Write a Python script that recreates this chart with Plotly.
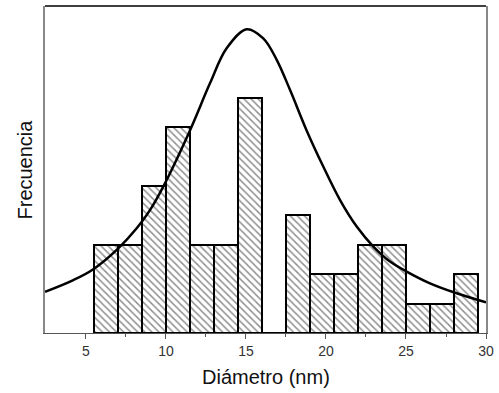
import plotly.graph_objects as go

# Histogram bins (nm) and counts
bin_centers = [6.25, 7.75, 9.25, 10.75, 12.25, 13.75, 15.25, 16.75,
               18.25, 19.75, 21.25, 22.75, 24.25, 25.75, 27.25, 28.75]
counts = [3, 3, 5, 7, 3, 3, 8, 0, 4, 2, 2, 3, 3, 1, 1, 2]

# Fitted curve, points
fit_x = [2.44, 4.21, 5.46, 7.02, 8.17, 9.0, 9.83, 11.5, 12.75, 13.79,
         15.04, 16.08, 16.92, 17.75, 18.79, 19.83, 20.88, 21.92, 22.96,
         24.0, 25.04, 26.5, 28.17, 30.0]
fit_y = [1.40, 1.80, 2.17, 2.88, 3.56, 4.18, 4.98, 6.89, 8.49, 9.68,
         10.33, 10.02, 9.29, 8.27, 6.89, 5.66, 4.52, 3.62, 2.94,
         2.43, 2.09, 1.69, 1.35, 1.04]

x_ticks = [5, 10, 15, 20, 25, 30]
x_minor = [7.5, 12.5, 17.5, 22.5, 27.5]

fig = go.Figure()
fig.add_trace(go.Bar(
    x=bin_centers, y=counts, width=1.5,
    marker=dict(color="white",
                line=dict(color="black", width=2),
                pattern=dict(shape="\\", size=5, solidity=0.3,
                             fgcolor="#222222", bgcolor="white")),
    showlegend=False,
))
fig.add_trace(go.Scatter(
    x=fit_x, y=fit_y, mode="lines", line_shape="spline",
    line=dict(color="black", width=2.5), showlegend=False,
))

fig.update_layout(
    width=499, height=393,
    margin=dict(l=45, r=13, t=6, b=60),
    plot_bgcolor="white", paper_bgcolor="white",
    font=dict(family="Liberation Sans, Arial", color="#222222"),
    xaxis=dict(range=[2.44, 30], tickvals=x_ticks, ticks="outside",
               ticklen=5, tickcolor="#555555", showgrid=False, zeroline=False,
               showline=True, linecolor="#555555", linewidth=1,
               automargin=False,
               minor=dict(tickvals=x_minor, ticks="outside", ticklen=3,
                          tickcolor="#555555"),
               tickfont=dict(size=14, color="#333333")),
    yaxis=dict(range=[0, 11.12], showticklabels=False, showgrid=False,
               zeroline=False, showline=True, mirror=True,
               linecolor="#888888", linewidth=1.5, automargin=False),
    shapes=[dict(type="line", xref="paper", yref="paper", x0=0, x1=1,
                 y0=1, y1=1, line=dict(color="black", width=1.5))],
    annotations=[
        dict(text="Diámetro (nm)", xref="paper", yref="paper", x=0.5, y=0,
             yshift=-44, showarrow=False, yanchor="middle",
             font=dict(size=20, color="#111111")),
        dict(text="Frecuencia", xref="paper", yref="paper", x=0, y=0.5,
             xshift=-21, textangle=-90, showarrow=False, xanchor="center",
             font=dict(size=20, color="#111111")),
    ],
    bargap=0,
)

# page body has an 8px default margin; drop it so the figure fills the window
fig.write_html("out.html", config={"displayModeBar": False},
               post_script="document.body.style.margin='0';")
